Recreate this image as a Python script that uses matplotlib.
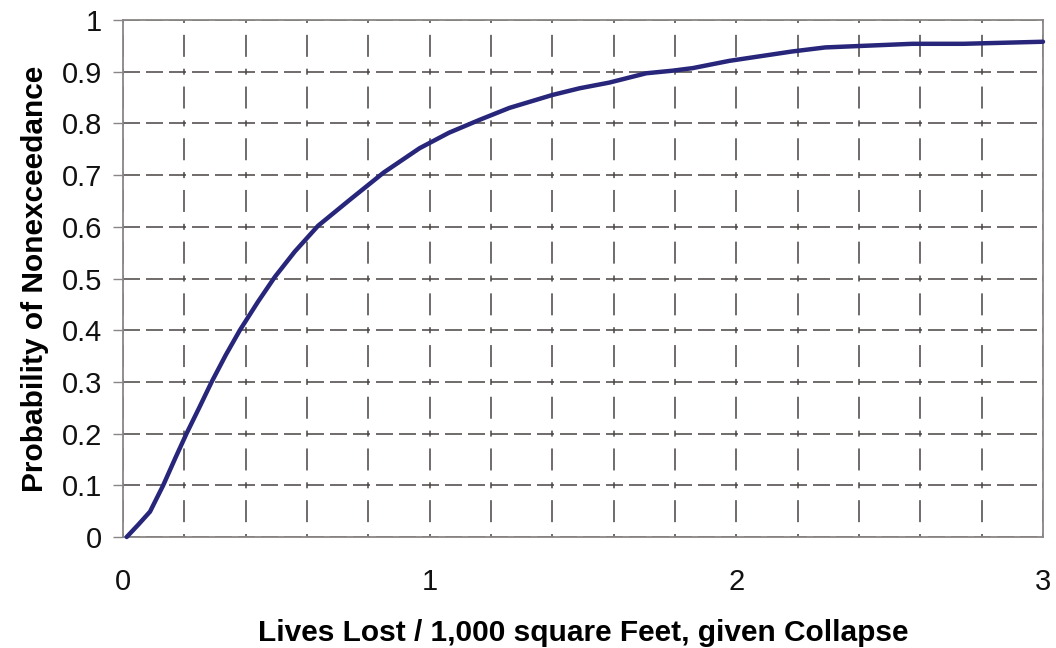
import numpy as np
import matplotlib
matplotlib.use('Agg')
from matplotlib import pyplot as plt
from matplotlib.ticker import MultipleLocator

plt.rcParams['font.family'] = ['Liberation Sans', 'DejaVu Sans']
plt.rcParams['lines.scale_dashes'] = False

# curve
lives_lost = [0.012, 0.05, 0.088, 0.131, 0.17, 0.207, 0.25, 0.289, 0.335, 0.381,
              0.44, 0.495, 0.56, 0.636, 0.739, 0.85, 0.967, 1.063, 1.163, 1.26,
              1.40, 1.489, 1.586, 1.706, 1.792, 1.858, 1.977, 2.18, 2.29, 2.574,
              2.74, 3.0]
prob_nonexceed = [0.0, 0.024, 0.049, 0.10, 0.152, 0.20, 0.252, 0.30, 0.352, 0.40,
                  0.455, 0.503, 0.552, 0.602, 0.652, 0.705, 0.752, 0.782, 0.807, 0.83,
                  0.855, 0.868, 0.879, 0.897, 0.902, 0.907, 0.921, 0.939, 0.947, 0.954,
                  0.954, 0.958]

x_ticks = [0, 1, 2, 3]
y_ticks = [0, 0.1, 0.2, 0.3, 0.4, 0.5, 0.6, 0.7, 0.8, 0.9, 1]
y_tick_labels = ['0', '0.1', '0.2', '0.3', '0.4', '0.5', '0.6', '0.7', '0.8', '0.9', '1']

fig = plt.figure(figsize=(10.56, 6.48), dpi=100)
ax = fig.add_axes([0.1165, 0.1713, 0.8712, 0.7978])

ax.set_xlim(0, 3)
ax.set_ylim(0, 1)
ax.set_xticks(x_ticks)
ax.set_xticklabels([str(v) for v in x_ticks])
ax.xaxis.set_minor_locator(MultipleLocator(0.2))
ax.set_yticks(y_ticks)
ax.set_yticklabels(y_tick_labels)

# grid: vertical dash-dot style, horizontal dashes
px = 0.72
vstyle = (3 * px, (6 * px, 11.85 * px, 22 * px, 11.85 * px))
ax.grid(True, which='both', axis='x', color='#4a4444', linewidth=1.1, linestyle=vstyle)
ax.grid(True, which='major', axis='y', color='#4a4444', linewidth=1.1,
        linestyle=(0, (17 * px, 6 * px)))

ax.plot(lives_lost, prob_nonexceed, color='#27267a', linewidth=3.2,
        solid_capstyle='round', solid_joinstyle='round', clip_on=False, zorder=3)

for s in ax.spines.values():
    s.set_color('#8a8686')
    s.set_linewidth(1.3)

ax.tick_params(axis='x', which='both', length=0, pad=22, labelsize=21, colors='#111111')
ax.tick_params(axis='y', length=7, width=1, color='#8a8686', pad=8, labelsize=21,
               labelcolor='#111111')

ax.set_xlabel('Lives Lost / 1,000 square Feet, given Collapse', fontsize=21.5,
              fontweight='bold', labelpad=17)
ax.set_ylabel('Probability of Nonexceedance', fontsize=21.5, fontweight='bold', labelpad=9)

fig.savefig('out.png', dpi=100)
